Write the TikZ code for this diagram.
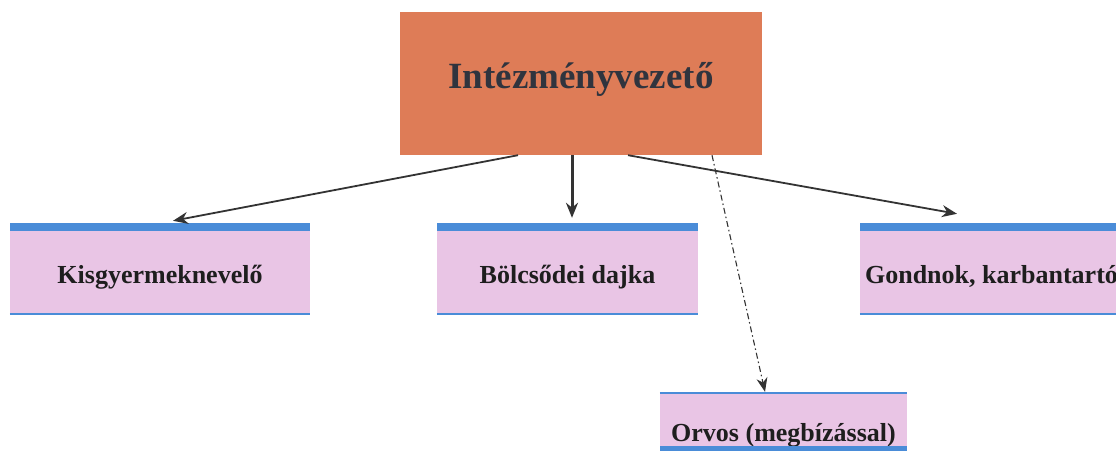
\documentclass[tikz,border=0pt]{standalone}
\usepackage{fontspec}
\setmainfont{Liberation Serif}
\usetikzlibrary{arrows.meta}
\definecolor{bossfill}{HTML}{DE7C57}
\definecolor{pinkfill}{HTML}{E9C5E5}
\definecolor{bandblue}{HTML}{4A8CD8}
\definecolor{ink}{HTML}{1E1E1E}
\definecolor{bossink}{HTML}{30343E}
\definecolor{linegray}{HTML}{333333}
\begin{document}
\begin{tikzpicture}[x=1pt,y=-1pt,
  bossbox/.style={fill=bossfill, draw=none, minimum width=362pt, minimum height=143pt,
    text=bossink, font=\fontsize{37}{42}\selectfont\bfseries, text height=26pt, text depth=17pt},
  pinkbox/.style={fill=pinkfill, draw=none, minimum height=83pt, inner sep=0pt,
    text=ink, font=\fontsize{26}{30}\selectfont\bfseries, text height=25pt, text depth=4pt},
  connector/.style={draw=linegray, line width=1.8pt, -{Stealth[length=15pt,width=12pt]}},
  dashconn/.style={draw=linegray, line width=1.1pt, dash pattern=on 6pt off 3pt on 1.5pt off 3pt,
    -{Stealth[length=14pt,width=11pt]}}
]
\clip (0,0) rectangle (1116,450);
\useasboundingbox (0,0) rectangle (1116,450);

\node[bossbox] (boss) at (581,83.5) {Intézményvezető};

\node[pinkbox, minimum width=300pt] (kis) at (160,272.5) {Kisgyermeknevelő};
\node[pinkbox, minimum width=261pt] (bol) at (567.5,272.5) {Bölcsődei dajka};
\node[pinkbox, minimum width=263pt] (gon) at (991.5,272.5) {Gondnok, karbantartó};
\node[pinkbox, minimum width=247pt, minimum height=53pt, text height=44pt, text depth=0pt] (orv) at (783.5,419.5) {Orvos (megbízással)};

% blue bands
\foreach \b in {kis,bol,gon}{
  \fill[bandblue] (\b.north west) rectangle ([yshift=8pt]\b.north east);
  \draw[bandblue, line width=2pt] (\b.south west) -- (\b.south east);
}
\draw[bandblue, line width=2pt] (orv.north west) -- (orv.north east);
\fill[bandblue] (orv.south west) rectangle ([yshift=-6pt]orv.south east);

% connectors
\draw[connector] ([xshift=-63pt]boss.south) -- ([xshift=13pt,yshift=10pt]kis.north);
\draw[connector, line width=3pt] ([xshift=-9pt]boss.south) -- ([xshift=4.5pt,yshift=13pt]bol.north);
\draw[connector] ([xshift=47pt]boss.south) -- ([xshift=-34.5pt,yshift=17pt]gon.north);
\draw[dashconn] ([xshift=131pt]boss.south) -- ([xshift=-18.5pt,yshift=1pt]orv.north);
\end{tikzpicture}
\end{document}
